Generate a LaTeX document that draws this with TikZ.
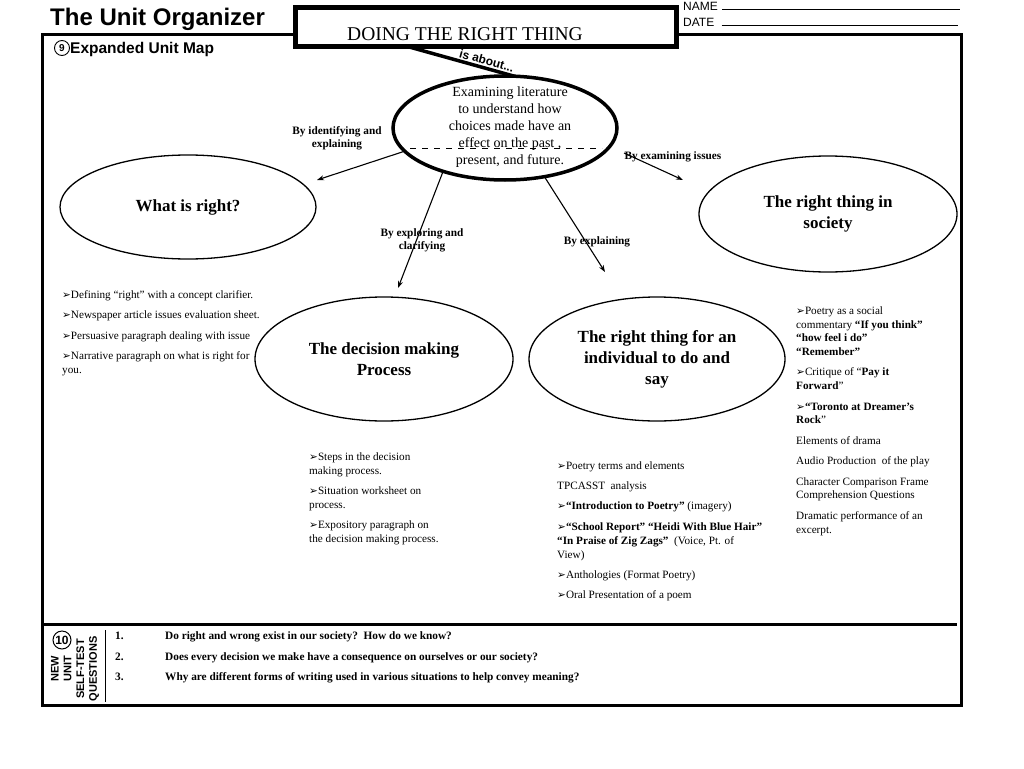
\documentclass[tikz,border=0pt]{standalone}
\usepackage{fontspec}
\setmainfont{Liberation Serif}
\setsansfont{Liberation Sans}
\newfontfamily\djv{DejaVu Sans}
\usetikzlibrary{shapes.geometric,arrows.meta,calc}
\newcommand{\myfs}[2]{\fontsize{#1}{#2}\selectfont}
\newcommand{\bul}{{\djv\mdseries\fontsize{10.5}{10.5}\selectfont ➢}}
\begin{document}
\begin{tikzpicture}[x=1pt,y=-1pt,
  lst/.style={anchor=base west, inner sep=0pt, font=\myfs{11.2}{13}},
  qst/.style={anchor=base west, inner sep=0pt, font=\myfs{11.3}{13}\bfseries},
  lbl/.style={align=center, inner sep=0pt, font=\myfs{11.3}{13}\bfseries},
  bub/.style={ellipse, draw, line width=1.3pt, inner sep=0pt, outer sep=0pt, align=center, font=\myfs{17}{21}\bfseries},
  arr/.style={line width=1.1pt, -{Stealth[length=7pt,width=5pt]}},
  hdr/.style={anchor=base west, inner sep=0pt, font=\sffamily\myfs{12}{12}},
]
\useasboundingbox (0,0) rectangle (1024,768);
\fill[white] (0,0) rectangle (1024,768);

% header
\node[anchor=base west, inner sep=0pt, font=\sffamily\bfseries\myfs{24}{24}] (title) at (50,26) {The Unit Organizer};
\node[hdr] (name) at (683,11) {NAME};
\node[hdr] (date) at (683,27) {DATE};
\draw[line width=1pt] (name.base east) ++(4,-1) coordinate (n0) -- (960,10);
\draw[line width=1pt] (date.base east) ++(7,-1) coordinate (d0) -- (958,26);

% main frame
\draw[line width=3pt] (42,35) rectangle (961,705);

% title box
\node[draw, line width=5pt, fill=white, minimum width=381pt, minimum height=39pt, inner sep=0pt, outer sep=0pt, anchor=north west] (T) at (295,8) {};
\node[anchor=base, inner sep=0pt, font=\myfs{19.5}{20}] (Tt) at (465,41) {DOING THE RIGHT THING};

% section 9
\node[circle, draw, line width=0.9pt, minimum size=15pt, inner sep=0pt, font=\sffamily\bfseries\myfs{10}{10}] (n9) at (62,48) {9};
\node[anchor=base west, inner sep=0pt, font=\sffamily\bfseries\myfs{15.5}{16}] (eum) at (70,53.5) {Expanded Unit Map};

% central ellipse
\node[ellipse, draw, line width=3.5pt, minimum width=224pt, minimum height=104pt, inner sep=0pt, outer sep=0pt] (C) at (505,128) {};
\draw[line width=0.8pt, dash pattern=on 6pt off 6pt] (410,148) -- (602,148);
\node[align=center, inner sep=0pt, font=\myfs{14}{17}] (Ct) at (510,127) {Examining literature\\to understand how\\choices made have an\\effect on the past ,\\present, and future.};

\draw[line width=3.5pt] ($(T.south west)!0.3!(T.south east)$) -- node[sloped, above=0.5pt, pos=0.72, inner sep=1pt, font=\sffamily\bfseries\myfs{12}{12}] (ia) {is about...} (C.80);

% satellite ellipses
\node[bub, minimum width=256pt, minimum height=104pt] (L) at (188,207) {What is right?};
\node[bub, minimum width=258pt, minimum height=116pt] (R) at (828,214) {The right thing in\\society};
\node[bub, minimum width=258pt, minimum height=124pt] (D) at (384,359) {The decision making\\Process};
\node[bub, minimum width=256pt, minimum height=124pt] (I) at (657,359) {The right thing for an\\individual to do and\\say};

% arrows
\coordinate (t1) at (317,180);
\coordinate (t2) at (398,288);
\coordinate (t3) at (605,272);
\coordinate (s4) at (624,153);
\coordinate (t4) at (683,180);
\draw[arr] (C.193.5) -- (t1);
\draw[arr] (C.215.4) -- (t2);
\draw[arr] (C.309) -- (t3);
\draw[arr] (s4) -- (t4);

\node[lbl] (b1) at (337,138.5) {By identifying and\\explaining};
\node[lbl] (b2) at (422,240.5) {By exploring and\\clarifying};
\node[lbl] (b3) at (597,242) {By explaining};
\node[lbl] (b4) at (673,157) {By examining issues};

% left list
\node[lst] (l1) at (62,298) {\bul Defining “right” with a concept clarifier.};
\node[lst] (l2) at (62,318) {\bul Newspaper article issues evaluation sheet.};
\node[lst] (l3) at (62,339) {\bul Persuasive paragraph dealing with issue};
\node[lst] (l4) at (62,359) {\bul Narrative paragraph on what is right for};
\node[lst] (l5) at (62,373.5) {you.};

% middle list
\node[lst] (m1) at (309,460) {\bul Steps in the decision};
\node[lst] (m2) at (309,474) {making process.};
\node[lst] (m3) at (309,494) {\bul Situation worksheet on};
\node[lst] (m4) at (309,508) {process.};
\node[lst] (m5) at (309,528) {\bul Expository paragraph on};
\node[lst] (m6) at (309,542) {the decision making process.};

% right-centre list
\node[lst] (n1) at (557,469) {\bul Poetry terms and elements};
\node[lst] (n2) at (557,489) {TPCASST\ \ analysis};
\node[lst] (n3) at (557,509) {\bul\textbf{“Introduction to Poetry”} (imagery)};
\node[lst] (n4) at (557,530) {\bul\textbf{“School Report” “Heidi With Blue Hair”}};
\node[lst] (n5) at (557,544) {\textbf{“In Praise of Zig Zags”}\ \ (Voice, Pt. of};
\node[lst] (n6) at (557,558) {View)};
\node[lst] (n7) at (557,578) {\bul Anthologies (Format Poetry)};
\node[lst] (n8) at (557,598) {\bul Oral Presentation of a poem};

% right list
\node[lst] (r1) at (796,314.5) {\bul Poetry as a social};
\node[lst] (r2) at (796,328.5) {commentary \textbf{“If you think”}};
\node[lst] (r3) at (796,341.5) {\textbf{“how feel i do”}};
\node[lst] (r4) at (796,355.5) {\textbf{“Remember”}};
\node[lst] (r5) at (796,375.5) {\bul Critique of “\textbf{Pay it}};
\node[lst] (r6) at (796,389.5) {\textbf{Forward}”};
\node[lst] (r7) at (796,410.5) {\bul\textbf{“Toronto at Dreamer’s}};
\node[lst] (r8) at (796,423.5) {\textbf{Rock}”};
\node[lst] (r9) at (796,444.5) {Elements of drama};
\node[lst] (r10) at (796,464.5) {Audio Production\ \ of the play};
\node[lst] (r11) at (796,485.5) {Character Comparison Frame};
\node[lst] (r12) at (796,498.5) {Comprehension Questions};
\node[lst] (r13) at (796,519.5) {Dramatic performance of an};
\node[lst] (r14) at (796,533.5) {excerpt.};

% bottom section
\draw[line width=3pt] (44,624) -- (957,624);
\draw[line width=1pt] (105,630) -- (105,702);
\node[circle, draw, line width=1pt, minimum size=18pt, inner sep=0pt, font=\sffamily\bfseries\myfs{12}{12}] (n10) at (62,640) {10};
\node[rotate=90, align=center, inner sep=0pt, font=\sffamily\bfseries\myfs{11}{12.7}] (nu) at (75,669) {NEW\\UNIT\\SELF-TEST\\QUESTIONS};

\node[qst] (q1n) at (115,639) {1.};
\node[qst] (q2n) at (115,660) {2.};
\node[qst] (q3n) at (115,680) {3.};
\node[qst] (q1) at (165,639) {Do right and wrong exist in our society?\ \ How do we know?};
\node[qst] (q2) at (165,660) {Does every decision we make have a consequence on ourselves or our society?};
\node[qst] (q3) at (165,680) {Why are different forms of writing used in various situations to help convey meaning?};
\end{tikzpicture}
\end{document}
